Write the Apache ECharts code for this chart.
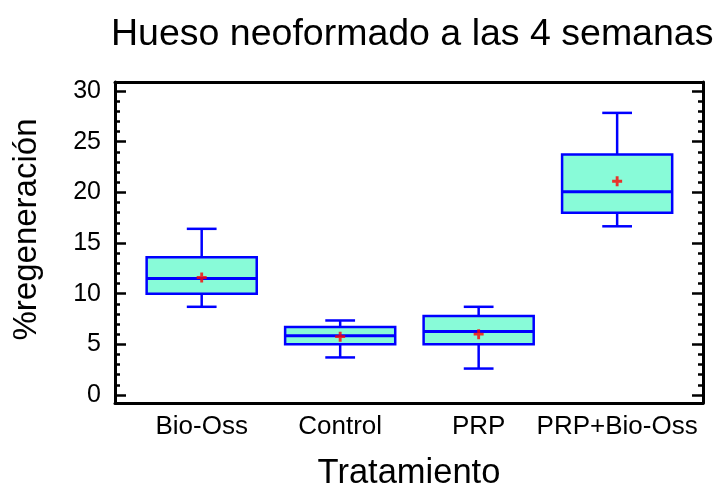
<!DOCTYPE html>
<html>
<head>
<meta charset="utf-8">
<script src="https://cdn.jsdelivr.net/npm/echarts@6/dist/echarts.min.js"></script>
<style>
html,body{margin:0;padding:0;background:#fff;}
#chart{width:717px;height:496px;}
</style>
</head>
<body>
<div id="chart"></div>
<script>
const categories = ['Bio-Oss', 'Control', 'PRP', 'PRP+Bio-Oss'];
const positions = [1, 2, 3, 4];
const whiskerLow = [8.7, 3.7, 2.6, 16.65];
const q1 = [10.0, 5.0, 5.0, 18.0];
const median = [11.5, 5.85, 6.25, 20.05];
const q3 = [13.6, 6.7, 7.8, 23.75];
const whiskerHigh = [16.4, 7.35, 8.7, 27.85];
const means = [11.6, 5.75, 6.0, 21.1];
const majorTicks = [0, 5, 10, 15, 20, 25, 30];
const minorTicks = [1, 2, 3, 4, 6, 7, 8, 9, 11, 12, 13, 14, 16, 17, 18, 19, 21, 22, 23, 24, 26, 27, 28, 29];

const FONT = "'Liberation Sans', Arial, sans-serif";
const yMin = -0.8, yMax = 30.9;
const xMin = 0.374, xMax = 4.62;

const boxData = positions.map((p, i) => [p, whiskerLow[i], q1[i], median[i], q3[i], whiskerHigh[i]]);
const meanData = positions.map((p, i) => [p, means[i]]);

const blue = '#0000ff';
function renderBox(params, api) {
  const x = api.value(0);
  const lo = api.coord([x, api.value(1)]);
  const b1 = api.coord([x, api.value(2)]);
  const md = api.coord([x, api.value(3)]);
  const b3 = api.coord([x, api.value(4)]);
  const hi = api.coord([x, api.value(5)]);
  const bw = api.size([0.795, 0])[0];
  const cw = api.size([0.215, 0])[0];
  const cx = lo[0];
  const lineStyle = {stroke: blue, lineWidth: 2.5, fill: null};
  return {
    type: 'group',
    children: [
      {type: 'line', shape: {x1: cx, y1: hi[1], x2: cx, y2: b3[1]}, style: lineStyle},
      {type: 'line', shape: {x1: cx, y1: b1[1], x2: cx, y2: lo[1]}, style: lineStyle},
      {type: 'line', shape: {x1: cx - cw / 2, y1: hi[1], x2: cx + cw / 2, y2: hi[1]}, style: lineStyle},
      {type: 'line', shape: {x1: cx - cw / 2, y1: lo[1], x2: cx + cw / 2, y2: lo[1]}, style: lineStyle},
      {type: 'rect', shape: {x: cx - bw / 2, y: b3[1], width: bw, height: b1[1] - b3[1]},
        style: {fill: '#88fbd8', stroke: blue, lineWidth: 2.5}},
      {type: 'line', shape: {x1: cx - bw / 2, y1: md[1], x2: cx + bw / 2, y2: md[1]},
        style: {stroke: blue, lineWidth: 3}}
    ]
  };
}

const chart = echarts.init(document.getElementById('chart'), null, {renderer: 'canvas'});
const axisLine = {show: true, onZero: false, lineStyle: {color: '#000', width: 3}};
chart.setOption({
  animation: false,
  backgroundColor: '#fff',
  textStyle: {fontFamily: FONT},
  title: {
    text: 'Hueso neoformado a las 4 semanas',
    left: 106, top: 11,
    textStyle: {fontFamily: FONT, fontSize: 37.5, fontWeight: 'normal', color: '#000'}
  },
  grid: {left: 115, right: 14, top: 82, bottom: 85, containLabel: false},
  xAxis: [
    {
      type: 'value', min: xMin, max: xMax, position: 'bottom',
      axisLine: axisLine,
      axisTick: {show: false},
      splitLine: {show: false},
      axisLabel: {
        customValues: positions, margin: 11,
        formatter: v => categories[Math.round(v) - 1],
        fontFamily: FONT, fontSize: 26, color: '#000'
      },
      name: 'Tratamiento', nameLocation: 'middle', nameGap: 53,
      nameTextStyle: {fontFamily: FONT, fontSize: 34.5, color: '#000'}
    },
    {
      type: 'value', min: xMin, max: xMax, position: 'top',
      axisLine: axisLine, axisTick: {show: false}, axisLabel: {show: false}, splitLine: {show: false}
    }
  ],
  yAxis: [
    {
      type: 'value', min: yMin, max: yMax, position: 'left',
      axisLine: axisLine,
      axisTick: {show: true, inside: true, length: 11, customValues: majorTicks, lineStyle: {color: '#000', width: 2.5}},
      axisLabel: {customValues: majorTicks, margin: 14, fontFamily: FONT, fontSize: 25, color: '#000'},
      splitLine: {show: false},
      name: '%regeneración', nameLocation: 'middle', nameGap: 72, nameRotate: 90,
      nameTextStyle: {fontFamily: FONT, fontSize: 33, color: '#000', padding: [0, 0, 0, 26]}
    },
    {
      type: 'value', min: yMin, max: yMax, position: 'left', offset: 0,
      axisLine: {show: false},
      axisTick: {show: true, inside: true, length: 5, customValues: minorTicks, lineStyle: {color: '#000', width: 2.5}},
      axisLabel: {show: false}, splitLine: {show: false}
    },
    {
      type: 'value', min: yMin, max: yMax, position: 'right', offset: 0,
      axisLine: axisLine,
      axisTick: {show: true, inside: true, length: 11, customValues: majorTicks, lineStyle: {color: '#000', width: 2.5}},
      axisLabel: {show: false}, splitLine: {show: false}
    },
    {
      type: 'value', min: yMin, max: yMax, position: 'right', offset: 0,
      axisLine: {show: false},
      axisTick: {show: true, inside: true, length: 5, customValues: minorTicks, lineStyle: {color: '#000', width: 2.5}},
      axisLabel: {show: false}, splitLine: {show: false}
    }
  ],
  series: [
    {
      type: 'custom', name: 'box', xAxisIndex: 0, yAxisIndex: 0,
      renderItem: renderBox,
      encode: {x: 0, y: [1, 2, 3, 4, 5]},
      data: boxData, z: 2
    },
    {
      type: 'scatter', name: 'media', xAxisIndex: 0, yAxisIndex: 0,
      symbol: 'path://M3.2,0H5.8V3.2H9V5.8H5.8V9H3.2V5.8H0V3.2H3.2Z', symbolSize: [10, 10],
      itemStyle: {color: '#ff0000'},
      data: meanData, z: 3
    }
  ]
});
</script>
</body>
</html>
